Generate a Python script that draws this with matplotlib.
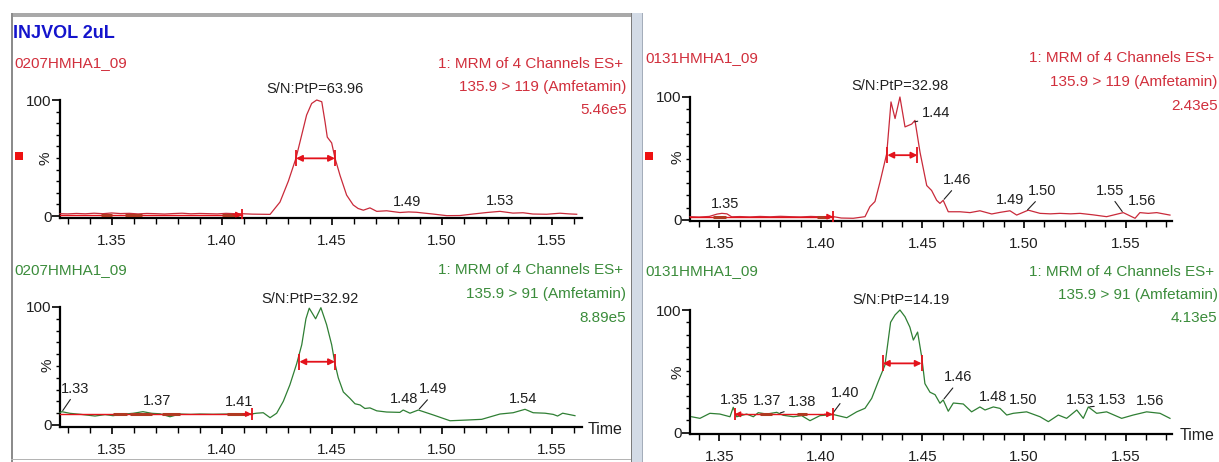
import numpy as np
import matplotlib
matplotlib.use("Agg")
import matplotlib.pyplot as plt
from matplotlib.patches import Rectangle
from matplotlib.ticker import MultipleLocator, FixedLocator, FormatStrFormatter

plt.rcParams['font.family'] = ['Liberation Sans', 'DejaVu Sans']

W, H = 1219, 462
PX = 0.72  # points per pixel at 100 dpi

# ------------------------------------------------------------------ data
title = "INJVOL 2uL"
samples = ["0207HMHA1_09", "0207HMHA1_09", "0131HMHA1_09", "0131HMHA1_09"]
func_line = "1: MRM of 4 Channels ES+"
transitions = ["135.9 > 119 (Amfetamin)", "135.9 > 91 (Amfetamin)",
               "135.9 > 119 (Amfetamin)", "135.9 > 91 (Amfetamin)"]
intensities = ["5.46e5", "8.89e5", "2.43e5", "4.13e5"]
sn_text = ["S/N:PtP=63.96", "S/N:PtP=32.92", "S/N:PtP=32.98", "S/N:PtP=14.19"]

tl_time = [1.3265, 1.3300, 1.3340, 1.3380, 1.3420, 1.3460, 1.3500, 1.3540, 1.3580, 1.3620,
           1.3660, 1.3700, 1.3740, 1.3780, 1.3820, 1.3860, 1.3900, 1.3940, 1.3980, 1.4020,
           1.4060, 1.4100, 1.4140, 1.4180, 1.4220, 1.4265, 1.4303, 1.4338, 1.4364, 1.4386,
           1.4409, 1.4432, 1.4455, 1.4470, 1.4480, 1.4500, 1.4515, 1.4538, 1.4568, 1.4598,
           1.4620, 1.4644, 1.4674, 1.4705, 1.4750, 1.4810, 1.4850, 1.4886, 1.4920, 1.4960,
           1.5023, 1.5083, 1.5142, 1.5205, 1.5265, 1.5324, 1.5370, 1.5415, 1.5477, 1.5538,
           1.5580, 1.5614]
tl_pct = [2.0, 1.8, 2.2, 1.9, 2.4, 2.0, 2.6, 2.1, 2.3, 1.8,
          2.2, 2.0, 1.7, 2.1, 2.4, 1.9, 2.2, 2.0, 1.8, 2.3,
          2.0, 1.9, 1.6, 1.5, 1.4, 12.0, 30.0, 50.0, 70.0, 87.0,
          97.0, 100.0, 98.5, 81.0, 68.0, 63.0, 50.0, 35.0, 18.0, 9.5,
          6.5, 5.0, 7.0, 4.0, 4.5, 3.0, 3.5, 3.2, 2.5, 1.7,
          0.3, 0.4, 1.7, 3.0, 4.0, 2.5, 2.8, 1.7, 1.5, 2.4,
          1.8, 1.5]

bl_time = [1.3265, 1.3273, 1.3310, 1.3360, 1.3424, 1.3470, 1.3506, 1.3550, 1.3597, 1.3642,
           1.3682, 1.3720, 1.3765, 1.3810, 1.3860, 1.3901, 1.3960, 1.4023, 1.4083, 1.4136,
           1.4159, 1.4189, 1.4220, 1.4250, 1.4280, 1.4310, 1.4341, 1.4364, 1.4383, 1.4398,
           1.4427, 1.4451, 1.4477, 1.4500, 1.4515, 1.4530, 1.4553, 1.4583, 1.4606, 1.4629,
           1.4651, 1.4674, 1.4705, 1.4750, 1.4810, 1.4825, 1.4856, 1.4894, 1.4962, 1.5038,
           1.5114, 1.5182, 1.5265, 1.5325, 1.5379, 1.5416, 1.5470, 1.5507, 1.5527, 1.5550,
           1.5606]
bl_pct = [10.5, 11.3, 9.9, 9.0, 7.6, 8.8, 7.9, 9.2, 9.9, 11.3,
          9.9, 9.5, 7.0, 9.3, 9.0, 9.3, 9.1, 9.3, 9.3, 9.4,
          10.0, 10.4, 6.2, 10.0, 20.0, 34.0, 52.0, 68.0, 90.0, 99.0,
          90.0, 99.4, 85.0, 68.0, 52.0, 40.0, 28.0, 22.6, 18.0, 17.0,
          14.0, 14.5, 12.0, 11.0, 10.7, 12.7, 10.0, 12.7, 8.5, 3.6,
          4.2, 4.8, 9.3, 10.4, 13.3, 10.4, 10.0, 9.0, 7.6, 10.0,
          7.9]

tr_time = [1.3355, 1.3400, 1.3450, 1.3488, 1.3512, 1.3537, 1.3560, 1.3600, 1.3650, 1.3700,
           1.3750, 1.3800, 1.3850, 1.3900, 1.3950, 1.4000, 1.4059, 1.4100, 1.4159, 1.4217,
           1.4241, 1.4266, 1.4291, 1.4324, 1.4345, 1.4365, 1.4389, 1.4414, 1.4447, 1.4463,
           1.4488, 1.4521, 1.4545, 1.4570, 1.4586, 1.4602, 1.4627, 1.4685, 1.4734, 1.4783,
           1.4841, 1.4882, 1.4931, 1.4964, 1.5021, 1.5079, 1.5130, 1.5177, 1.5230, 1.5276,
           1.5340, 1.5407, 1.5489, 1.5547, 1.5571, 1.5612, 1.5654, 1.5719]
tr_pct = [2.7, 2.4, 2.9, 4.8, 5.4, 5.0, 2.6, 2.8, 2.5, 2.9,
          2.6, 3.0, 2.7, 2.5, 2.9, 2.6, 2.8, 1.6, 1.4, 2.7,
          10.8, 15.0, 31.0, 54.0, 96.0, 82.5, 100.0, 75.7, 78.0, 81.0,
          55.0, 28.0, 24.0, 16.0, 13.5, 16.0, 6.7, 6.7, 6.0, 7.5,
          4.9, 6.2, 7.5, 4.0, 8.0, 5.4, 5.0, 5.4, 5.0, 5.4,
          4.2, 2.7, 6.0, 1.4, 6.0, 5.4, 6.0, 4.0]

br_time = [1.3363, 1.3404, 1.3453, 1.3502, 1.3552, 1.3568, 1.3585, 1.3634, 1.3667, 1.3691,
           1.3733, 1.3782, 1.3814, 1.3864, 1.3905, 1.3946, 1.3995, 1.4061, 1.4127, 1.4176,
           1.4217, 1.4250, 1.4282, 1.4315, 1.4343, 1.4365, 1.4389, 1.4414, 1.4438, 1.4455,
           1.4476, 1.4496, 1.4512, 1.4537, 1.4562, 1.4586, 1.4602, 1.4627, 1.4652, 1.4701,
           1.4742, 1.4783, 1.4808, 1.4849, 1.4882, 1.4915, 1.4947, 1.5013, 1.5079, 1.5120,
           1.5169, 1.5210, 1.5260, 1.5292, 1.5317, 1.5358, 1.5407, 1.5481, 1.5538, 1.5604,
           1.5670, 1.5719]
br_pct = [13.0, 11.7, 15.8, 15.2, 13.0, 20.7, 13.0, 15.2, 13.0, 16.3,
          15.2, 16.6, 14.2, 13.0, 13.9, 9.8, 13.9, 14.8, 12.2, 17.0,
          19.9, 28.0, 41.6, 55.0, 90.0, 96.0, 100.0, 94.5, 86.0, 75.5,
          82.0, 62.0, 40.0, 33.0, 31.0, 24.0, 26.7, 17.5, 24.2, 23.4,
          17.0, 21.0, 18.5, 21.0, 19.8, 14.4, 15.8, 17.0, 13.0, 9.0,
          14.4, 11.7, 18.5, 11.7, 21.0, 15.8, 17.0, 11.7, 14.4, 17.0,
          15.8, 11.7]

# FWHM markers: (start, end, level %)
fwhm = [(1.4338, 1.4515, 49.7), (1.4353, 1.4515, 53.6),
        (1.4327, 1.4475, 52.7), (1.4305, 1.4496, 56.5)]
# noise regions: (start, end, level %)
noise = [(1.3265, 1.4091, 1.2), (1.3265, 1.4136, 9.3),
         (1.3355, 1.4059, 2.7), (1.3575, 1.4058, 15.0)]
noise_blobs = [[(1.3450, 1.3500), (1.3560, 1.3640), (1.4000, 1.4080)],
               [(1.3506, 1.3569), (1.3583, 1.3683), (1.3728, 1.3810), (1.4024, 1.4119)],
               [(1.3470, 1.3530), (1.3980, 1.4040)],
               [(1.3700, 1.3760), (1.3880, 1.3930)]]

# peak labels: (text, retention time anchor, dx px, dy px, leader line)
peak_labels = [
    [("1.49", 1.4842, 0, -12, False), ("1.53", 1.5265, 0, -12, False)],
    [("1.33", 1.3274, 13, -24.7, True), ("1.37", 1.3706, 0, -14, False),
     ("1.41", 1.4081, 0, -13.5, False), ("1.48", 1.4829, 0, -13, False),
     ("1.49", 1.4894, 15, -22.5, True), ("1.54", 1.5372, 0, -12, False)],
    [("1.35", 1.3530, 0, -11.3, False), ("1.44", 1.4455, 22.7, -11, True),
     ("1.46", 1.4602, 14.2, -22, True), ("1.49", 1.4931, 0, -12, False),
     ("1.50", 1.5013, 15, -21.5, True), ("1.55", 1.5488, -13, -23.6, True),
     ("1.56", 1.5580, 0, -13.7, False)],
    [("1.35", 1.3568, 0.7, -9.3, False), ("1.37", 1.3737, 0, -14, False),
     ("1.38", 1.3793, 23.5, -13, True), ("1.40", 1.4053, 13.3, -23.5, True),
     ("1.46", 1.4602, 15, -24.3, True), ("1.48", 1.4849, 0, -11.5, False),
     ("1.50", 1.4997, 0, -13.3, False), ("1.53", 1.5276, 0, -15.3, False),
     ("1.53", 1.5317, 24.2, -8, True), ("1.56", 1.5621, 0, -13, False)],
]
sn_offset = [(-1.4, -12.5), (-11.4, -10.2), (0.3, -12.7), (0.8, -11.8)]

# ------------------------------------------------------------------ style
RED_TXT = '#d12f3c'
RED_LINE = '#c92a3a'
ARROW_RED = '#e3121b'
GREEN_TXT = '#3b8c3b'
GREEN_LINE = '#2f7f34'
BLUE = '#1414cc'
DARK = '#202020'

# panel geometry in pixels: left, top(100%), right, bottom(axis), y of 0%
panels = [
    dict(box=(60, 100, 582, 218), y0=216, xlim=(1.3265, 1.5638), tcol=RED_TXT, lcol=RED_LINE,
         hdr=(14, 62), hx=623, pct=(46, 158), time=None, data=(tl_time, tl_pct)),
    dict(box=(60, 307, 582, 427), y0=425, xlim=(1.3265, 1.5638), tcol=GREEN_TXT, lcol=GREEN_LINE,
         hdr=(14, 269), hx=623, pct=(48, 365), time=(588, 429), data=(bl_time, bl_pct)),
    dict(box=(690, 97, 1172, 221), y0=220, xlim=(1.3355, 1.5729), tcol=RED_TXT, lcol=RED_LINE,
         hdr=(645, 57), hx=1214, pct=(678, 157), time=None, data=(tr_time, tr_pct)),
    dict(box=(690, 310, 1172, 434), y0=432.7, xlim=(1.3355, 1.5729), tcol=GREEN_TXT, lcol=GREEN_LINE,
         hdr=(645, 270), hx=1214, pct=(678, 372), time=(1180, 436), data=(br_time, br_pct)),
]

fig = plt.figure(figsize=(W / 100, H / 100), dpi=100)
fig.patch.set_facecolor('white')


def ftext(x, y, s, **kw):
    return fig.text(x / W, 1 - y / H, s, **kw)


def frect(x, y, w, h, color):
    fig.patches.append(Rectangle((x / W, 1 - (y + h) / H), w / W, h / H,
                                 transform=fig.transFigure, color=color, lw=0, zorder=0))


# window frames
frect(11, 13, 621, 4, '#a9a9a9')
frect(11, 13, 1.5, 449, '#8c8c8c')
frect(11, 458.5, 621, 1.5, '#b4b4b4')
frect(630.5, 13, 1.5, 449, '#7c7c7c')
frect(632, 13, 10, 449, '#d3dbe6')
frect(642, 13, 1.2, 449, '#a4adba')

ftext(13, 38, title, color=BLUE, fontsize=13, fontweight='bold', ha='left', va='baseline')

for k, p in enumerate(panels):
    l, t, r, b = p['box']
    ax = fig.add_axes([l / W, 1 - b / H, (r - l) / W, (b - t) / H])
    ax.patch.set_alpha(0)
    scale = (p['y0'] - t) / 100.0
    ylo = -(b - p['y0']) / scale
    ax.set_xlim(*p['xlim'])
    ax.set_ylim(ylo, 100)
    for s in ('top', 'right'):
        ax.spines[s].set_visible(False)
    for s in ('left', 'bottom'):
        ax.spines[s].set_linewidth(1.6)
        ax.spines[s].set_color('black')
    ax.xaxis.set_major_locator(MultipleLocator(0.05))
    ax.xaxis.set_minor_locator(MultipleLocator(0.01))
    ax.xaxis.set_major_formatter(FormatStrFormatter('%.2f'))
    ax.yaxis.set_major_locator(FixedLocator([0, 100]))
    ax.yaxis.set_minor_locator(FixedLocator([10, 20, 30, 40, 50, 60, 70, 80, 90]))
    ax.tick_params(axis='x', which='major', length=5, width=1.2, labelsize=11, pad=6.5,
                   labelcolor=DARK)
    ax.tick_params(axis='x', which='minor', length=4.5, width=1.0)
    ax.tick_params(axis='y', which='major', length=5.5, width=1.2, labelsize=11, pad=0.5,
                   labelcolor=DARK)
    ax.tick_params(axis='y', which='minor', length=3, width=1.0)

    tt, pp = p['data']
    ax.plot(tt, pp, color=p['lcol'], lw=0.9, clip_on=False, zorder=3)

    # noise region marker
    n0, n1, nl = noise[k]
    ax.plot([n0, n1], [nl, nl], color=ARROW_RED, lw=1.0, zorder=4, clip_on=False)
    for a0, a1 in noise_blobs[k]:
        ax.plot([a0, a1], [nl, nl], color='#b03a22', lw=2.2, zorder=4, solid_capstyle='butt')
    ax.annotate('', xy=(n1, nl), xytext=(n1 - 0.004, nl),
                arrowprops=dict(arrowstyle='-|>', color=ARROW_RED, lw=1.0, mutation_scale=8,
                                shrinkA=0, shrinkB=0), zorder=5)
    ax.plot([n1], [nl], marker='|', ms=9, mew=1.3, color=ARROW_RED, zorder=5)
    if k == 3:
        ax.annotate('', xy=(n0, nl), xytext=(n0 + 0.004, nl),
                    arrowprops=dict(arrowstyle='-|>', color=ARROW_RED, lw=1.0, mutation_scale=8,
                                    shrinkA=0, shrinkB=0), zorder=5)
        ax.plot([n0], [nl], marker='|', ms=9, mew=1.3, color=ARROW_RED, zorder=5)

    # FWHM arrow
    f0, f1, fl = fwhm[k]
    ax.annotate('', xy=(f1, fl), xytext=(f0, fl),
                arrowprops=dict(arrowstyle='<|-|>', color=ARROW_RED, lw=1.3, mutation_scale=9,
                                shrinkA=0, shrinkB=0), zorder=5)
    ax.plot([f0, f1], [fl, fl], ls='none', marker='|', ms=11, mew=1.3, color=ARROW_RED, zorder=5)

    # S/N text over apex
    ia = int(np.argmax(pp))
    dx, dy = sn_offset[k]
    ax.annotate(sn_text[k], xy=(tt[ia], pp[ia]), xytext=(dx * PX, -(dy + 5.5) * PX),
                textcoords='offset points', ha='center', va='baseline', fontsize=10.5,
                color=DARK, annotation_clip=False)

    # peak labels
    for s, ta, dx, dy, leader in peak_labels[k]:
        ya = float(np.interp(ta, tt, pp))
        kw = dict(xy=(ta, ya), xytext=(dx * PX, -(dy + 5.5) * PX), textcoords='offset points',
                  ha='center', va='baseline', fontsize=10.5, color=DARK, annotation_clip=False)
        if leader:
            kw['arrowprops'] = dict(arrowstyle='-', color=DARK, lw=0.8, shrinkA=1, shrinkB=1,
                                    relpos=(0.5, 0.2))
        ax.annotate(s, **kw)

    # headers
    hx0, hy = p['hdr']
    ftext(hx0, hy + 5.5, samples[k], color=p['tcol'], fontsize=11, ha='left', va='baseline')
    ftext(p['hx'], hy + 5.5, func_line, color=p['tcol'], fontsize=11, ha='right', va='baseline')
    ftext(p['hx'] + 3.5, hy + 29, transitions[k], color=p['tcol'], fontsize=11, ha='right',
          va='baseline')
    ftext(p['hx'] + 3.5, hy + 52.5, intensities[k], color=p['tcol'], fontsize=11, ha='right',
          va='baseline')
    ftext(p['pct'][0], p['pct'][1], '%', rotation=90, fontsize=11, ha='center', va='center',
          color=DARK)
    if p['time'] is not None:
        ftext(p['time'][0], p['time'][1], 'Time', fontsize=11.5, ha='left', va='center',
              color=DARK)

# small red markers
frect(15, 152, 8, 8, '#ee1111')
frect(645, 152, 8, 8, '#ee1111')

fig.savefig('out.png', dpi=100, facecolor='white')
